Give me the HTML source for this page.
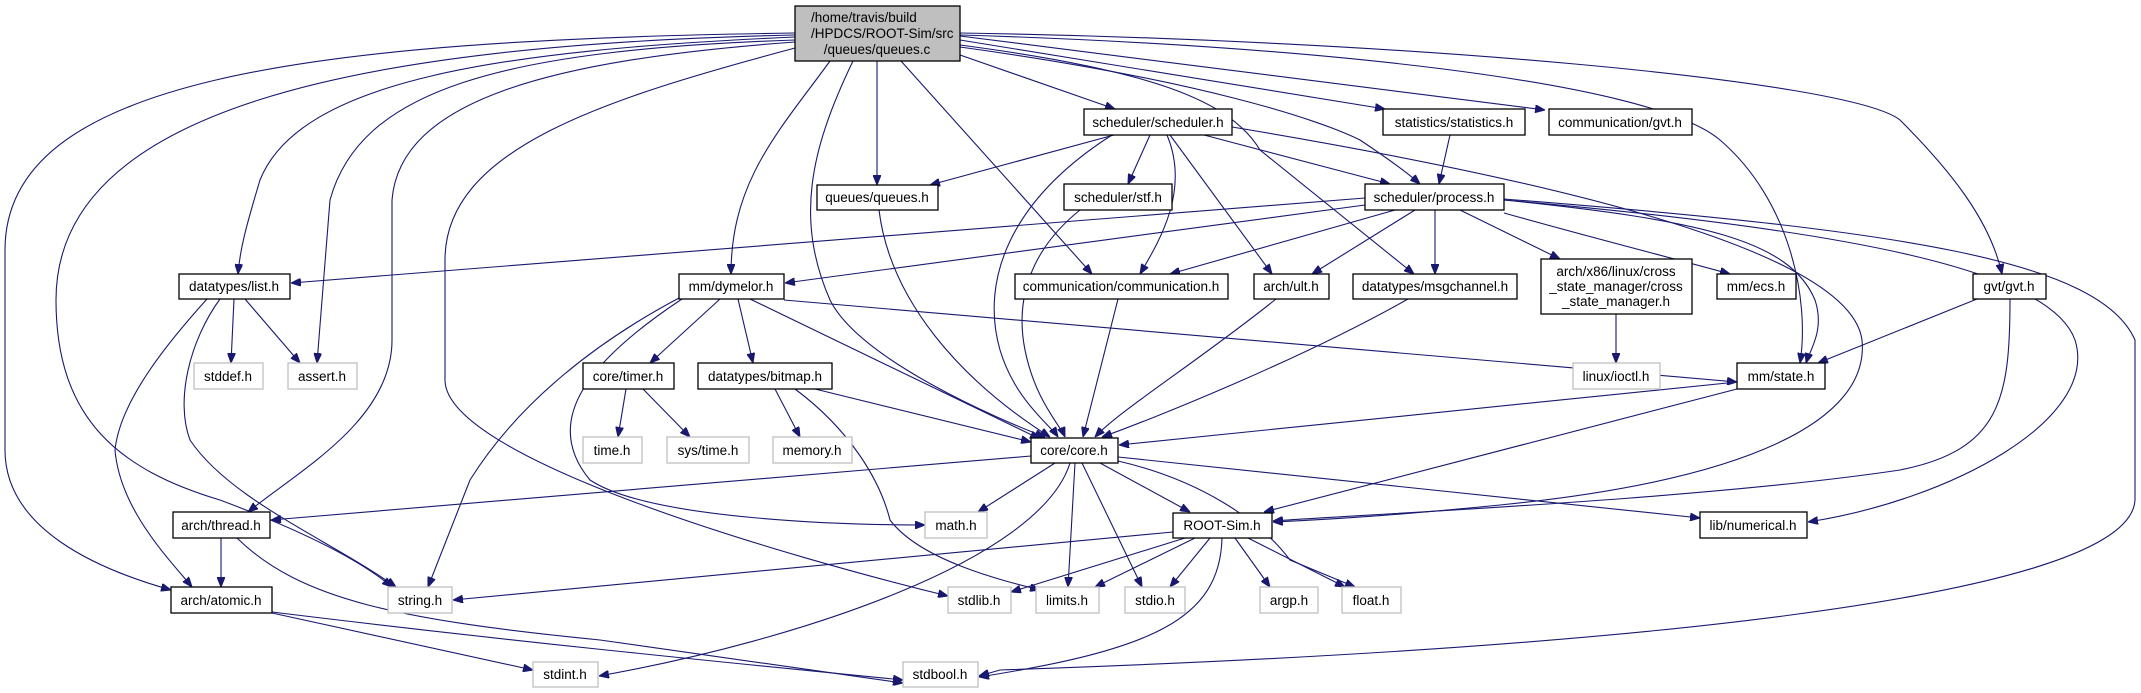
<!DOCTYPE html>
<html><head><meta charset="utf-8"><style>
html,body{margin:0;padding:0;background:#fff;}
svg{display:block;}
text{font-family:"Liberation Sans",sans-serif;font-size:13.5px;fill:#000;}
.n rect{fill:#fff;stroke:#000;stroke-width:1.3;}
.g rect{fill:#fff;stroke:#bfbfbf;stroke-width:1.3;}
.e path{fill:none;stroke:#191970;stroke-width:1.1;marker-end:url(#a);}
</style></head><body>
<svg width="2141" height="693" viewBox="0 0 2141 693" xmlns="http://www.w3.org/2000/svg">
<defs><marker id="a" markerWidth="10" markerHeight="8" refX="10" refY="4" orient="auto" markerUnits="userSpaceOnUse"><path d="M0,0 L10,4 L0,8 z" fill="#191970" stroke="#191970"/></marker></defs>
<g class="e">
<!-- queues.c -->
<path d="M795,33 C300,40 5,80 5,250 L5,450 C5,530 100,570 171,590"/>
<path d="M795,35 C350,45 56,110 56,300 C56,420 120,470 220,500 C300,530 360,560 392,587"/>
<path d="M795,37 C500,50 300,80 260,180 C245,230 240,250 238,274"/>
<path d="M795,40 C500,50 360,90 330,200 L317,363"/>
<path d="M795,42 C550,60 400,100 392,200 L392,340 C392,420 300,470 248,512"/>
<path d="M795,48 C600,100 445,150 445,260 L445,380 C445,460 800,560 948,596"/>
<path d="M830,61 C780,130 731,180 731,274"/>
<path d="M853,61 C810,150 795,220 830,300 C860,360 1000,420 1045,437"/>
<path d="M901,61 L1092,274"/>
<path d="M877,61 L877,185"/>
<path d="M960,45 C1150,70 1230,100 1260,150 L1414,274"/>
<path d="M960,47 C1200,80 1320,120 1360,140 C1390,160 1410,175 1420,184"/>
<path d="M960,55 L1115,109"/>
<path d="M960,40 L1385,109"/>
<path d="M960,36 L1545,110"/>
<path d="M960,35 C1300,45 1650,80 1720,140 C1790,200 1810,300 1800,363"/>
<path d="M960,33 C1400,40 1850,80 1900,120 C1950,170 1990,220 2002,274"/>
<!-- scheduler.h -->
<path d="M1114,135 L930,185"/>
<path d="M1150,135 L1128,184"/>
<path d="M1204,135 L1390,184"/>
<path d="M1167,135 C1190,190 1160,240 1140,274"/>
<path d="M1112,135 C1010,200 980,280 1000,350 C1015,400 1050,425 1058,437"/>
<path d="M1170,135 L1272,274"/>
<path d="M1232,127 C1550,180 1850,250 1862,340 C1870,420 1750,480 1500,505 C1400,515 1320,520 1273,522"/>
<path d="M1450,135 L1439,184"/>
<path d="M1080,210 C1030,250 1015,300 1025,350 C1035,400 1060,425 1065,437"/>
<path d="M879,210 C890,300 960,380 1050,437"/>
<path d="M1118,299 L1083,437"/>
<path d="M1276,299 C1200,360 1120,410 1095,437"/>
<path d="M1408,299 C1300,360 1150,420 1102,437"/>
<path d="M1737,382 L1119,445"/>
<path d="M1737,389 L1264,512"/>
<!-- process.h -->
<path d="M1365,198 L291,283"/>
<path d="M1365,205 L785,283"/>
<path d="M1395,210 L1170,274"/>
<path d="M1415,210 L1312,274"/>
<path d="M1435,210 L1435,274"/>
<path d="M1460,210 L1560,259"/>
<path d="M1504,213 C1600,240 1680,260 1730,274"/>
<path d="M1504,200 C1700,220 1790,240 1815,300 C1825,330 1810,350 1806,363"/>
<path d="M1504,200 C1850,230 2050,270 2075,340 C2100,420 1950,500 1808,522"/>
<path d="M1504,199 C1900,230 2100,260 2135,340 L2135,500 C2130,600 1600,650 1000,670 L979,676"/>
<path d="M1977,299 L1818,363"/>
<path d="M2010,299 C2010,400 2000,450 1900,470 C1700,500 1350,515 1273,521"/>
<path d="M1616,314 L1616,363"/>
<!-- dymelor -->
<path d="M720,299 L650,363"/>
<path d="M738,299 L753,363"/>
<path d="M750,299 L1040,439"/>
<path d="M679,298 C600,340 520,400 470,480 L428,587"/>
<path d="M682,299 C590,360 540,420 590,480 C650,520 850,525 925,525"/>
<path d="M784,300 L1737,382"/>
<!-- list -->
<path d="M234,299 L231,363"/>
<path d="M245,299 L300,363"/>
<path d="M207,299 C170,340 120,400 115,450 C120,510 170,560 192,587"/>
<path d="M220,299 C190,340 175,400 190,440 C230,500 330,540 396,587"/>
<path d="M626,389 L618,437"/>
<path d="M643,389 L690,437"/>
<path d="M775,389 L800,437"/>
<path d="M815,389 L1031,442"/>
<path d="M795,389 C850,430 880,480 890,520 C920,560 1000,580 1040,590"/>
<!-- core -->
<path d="M1031,456 L271,520"/>
<path d="M1055,463 L978,512"/>
<path d="M1100,463 L1190,512"/>
<path d="M1118,457 L1700,518"/>
<path d="M1118,461 C1200,480 1260,520 1290,560 L1355,587"/>
<path d="M1082,463 L1142,587"/>
<path d="M1075,463 L1068,587"/>
<path d="M1070,463 C1040,560 800,640 599,676"/>
<!-- ROOT-Sim -->
<path d="M1173,532 L453,600"/>
<path d="M1185,538 L1011,592"/>
<path d="M1195,538 L1095,587"/>
<path d="M1210,538 L1170,587"/>
<path d="M1235,538 L1270,587"/>
<path d="M1248,538 L1345,587"/>
<path d="M1222,538 C1220,620 1150,650 979,677"/>
<!-- thread/atomic -->
<path d="M221,538 L221,587"/>
<path d="M237,538 C300,600 400,620 600,640 L903,683"/>
<path d="M272,613 L533,670"/>
<path d="M272,612 C500,640 700,660 903,680"/>
</g>
<!-- nodes -->
<g class="n"><rect x="795" y="6" width="165" height="55" style="fill:#bfbfbf"/></g>
<text x="811" y="22">/home/travis/build</text>
<text x="811" y="38">/HPDCS/ROOT-Sim/src</text>
<text x="877" y="54" text-anchor="middle">/queues/queues.c</text>
<g class="n">
<rect x="817" y="185" width="121" height="25"/>
<rect x="1084" y="109" width="148" height="26"/>
<rect x="1383" y="109" width="142" height="26"/>
<rect x="1549" y="109" width="143" height="26"/>
<rect x="1064" y="184" width="108" height="26"/>
<rect x="1365" y="184" width="139" height="26"/>
<rect x="179" y="274" width="111" height="25"/>
<rect x="679" y="274" width="105" height="25"/>
<rect x="1015" y="274" width="213" height="25"/>
<rect x="1254" y="274" width="75" height="25"/>
<rect x="1353" y="274" width="164" height="25"/>
<rect x="1541" y="259" width="151" height="55"/>
<rect x="1717" y="274" width="79" height="25"/>
<rect x="1973" y="274" width="73" height="25"/>
<rect x="583" y="363" width="91" height="26"/>
<rect x="698" y="363" width="134" height="26"/>
<rect x="1737" y="363" width="88" height="26"/>
<rect x="1031" y="438" width="87" height="25"/>
<rect x="173" y="512" width="97" height="26"/>
<rect x="1173" y="513" width="99" height="25"/>
<rect x="1700" y="512" width="107" height="26"/>
<rect x="171" y="587" width="101" height="26"/>
</g>
<g class="g">
<rect x="194" y="363" width="69" height="26"/>
<rect x="288" y="363" width="69" height="26"/>
<rect x="1573" y="363" width="87" height="26"/>
<rect x="583" y="437" width="59" height="26"/>
<rect x="667" y="437" width="82" height="26"/>
<rect x="773" y="437" width="79" height="26"/>
<rect x="925" y="512" width="62" height="26"/>
<rect x="388" y="587" width="64" height="26"/>
<rect x="948" y="587" width="63" height="26"/>
<rect x="1036" y="587" width="63" height="26"/>
<rect x="1125" y="587" width="60" height="26"/>
<rect x="1260" y="587" width="58" height="26"/>
<rect x="1342" y="587" width="59" height="26"/>
<rect x="533" y="662" width="65" height="25"/>
<rect x="903" y="662" width="75" height="25"/>
</g>
<g text-anchor="middle">
<text x="877" y="202">queues/queues.h</text>
<text x="1158" y="127">scheduler/scheduler.h</text>
<text x="1454" y="127">statistics/statistics.h</text>
<text x="1620" y="127">communication/gvt.h</text>
<text x="1118" y="202">scheduler/stf.h</text>
<text x="1434" y="202">scheduler/process.h</text>
<text x="234" y="291">datatypes/list.h</text>
<text x="731" y="291">mm/dymelor.h</text>
<text x="1121" y="291">communication/communication.h</text>
<text x="1291" y="291">arch/ult.h</text>
<text x="1435" y="291">datatypes/msgchannel.h</text>
<text x="1616" y="276">arch/x86/linux/cross</text>
<text x="1616" y="291">_state_manager/cross</text>
<text x="1616" y="306">_state_manager.h</text>
<text x="1756" y="291">mm/ecs.h</text>
<text x="2009" y="291">gvt/gvt.h</text>
<text x="228" y="381">stddef.h</text>
<text x="322" y="381">assert.h</text>
<text x="628" y="381">core/timer.h</text>
<text x="765" y="381">datatypes/bitmap.h</text>
<text x="1616" y="381">linux/ioctl.h</text>
<text x="1781" y="381">mm/state.h</text>
<text x="612" y="455">time.h</text>
<text x="708" y="455">sys/time.h</text>
<text x="812" y="455">memory.h</text>
<text x="1074" y="455">core/core.h</text>
<text x="221" y="530">arch/thread.h</text>
<text x="956" y="530">math.h</text>
<text x="1222" y="530">ROOT-Sim.h</text>
<text x="1753" y="530">lib/numerical.h</text>
<text x="221" y="605">arch/atomic.h</text>
<text x="420" y="605">string.h</text>
<text x="979" y="605">stdlib.h</text>
<text x="1067" y="605">limits.h</text>
<text x="1155" y="605">stdio.h</text>
<text x="1289" y="605">argp.h</text>
<text x="1371" y="605">float.h</text>
<text x="565" y="679">stdint.h</text>
<text x="940" y="679">stdbool.h</text>
</g>
</svg>
</body></html>
